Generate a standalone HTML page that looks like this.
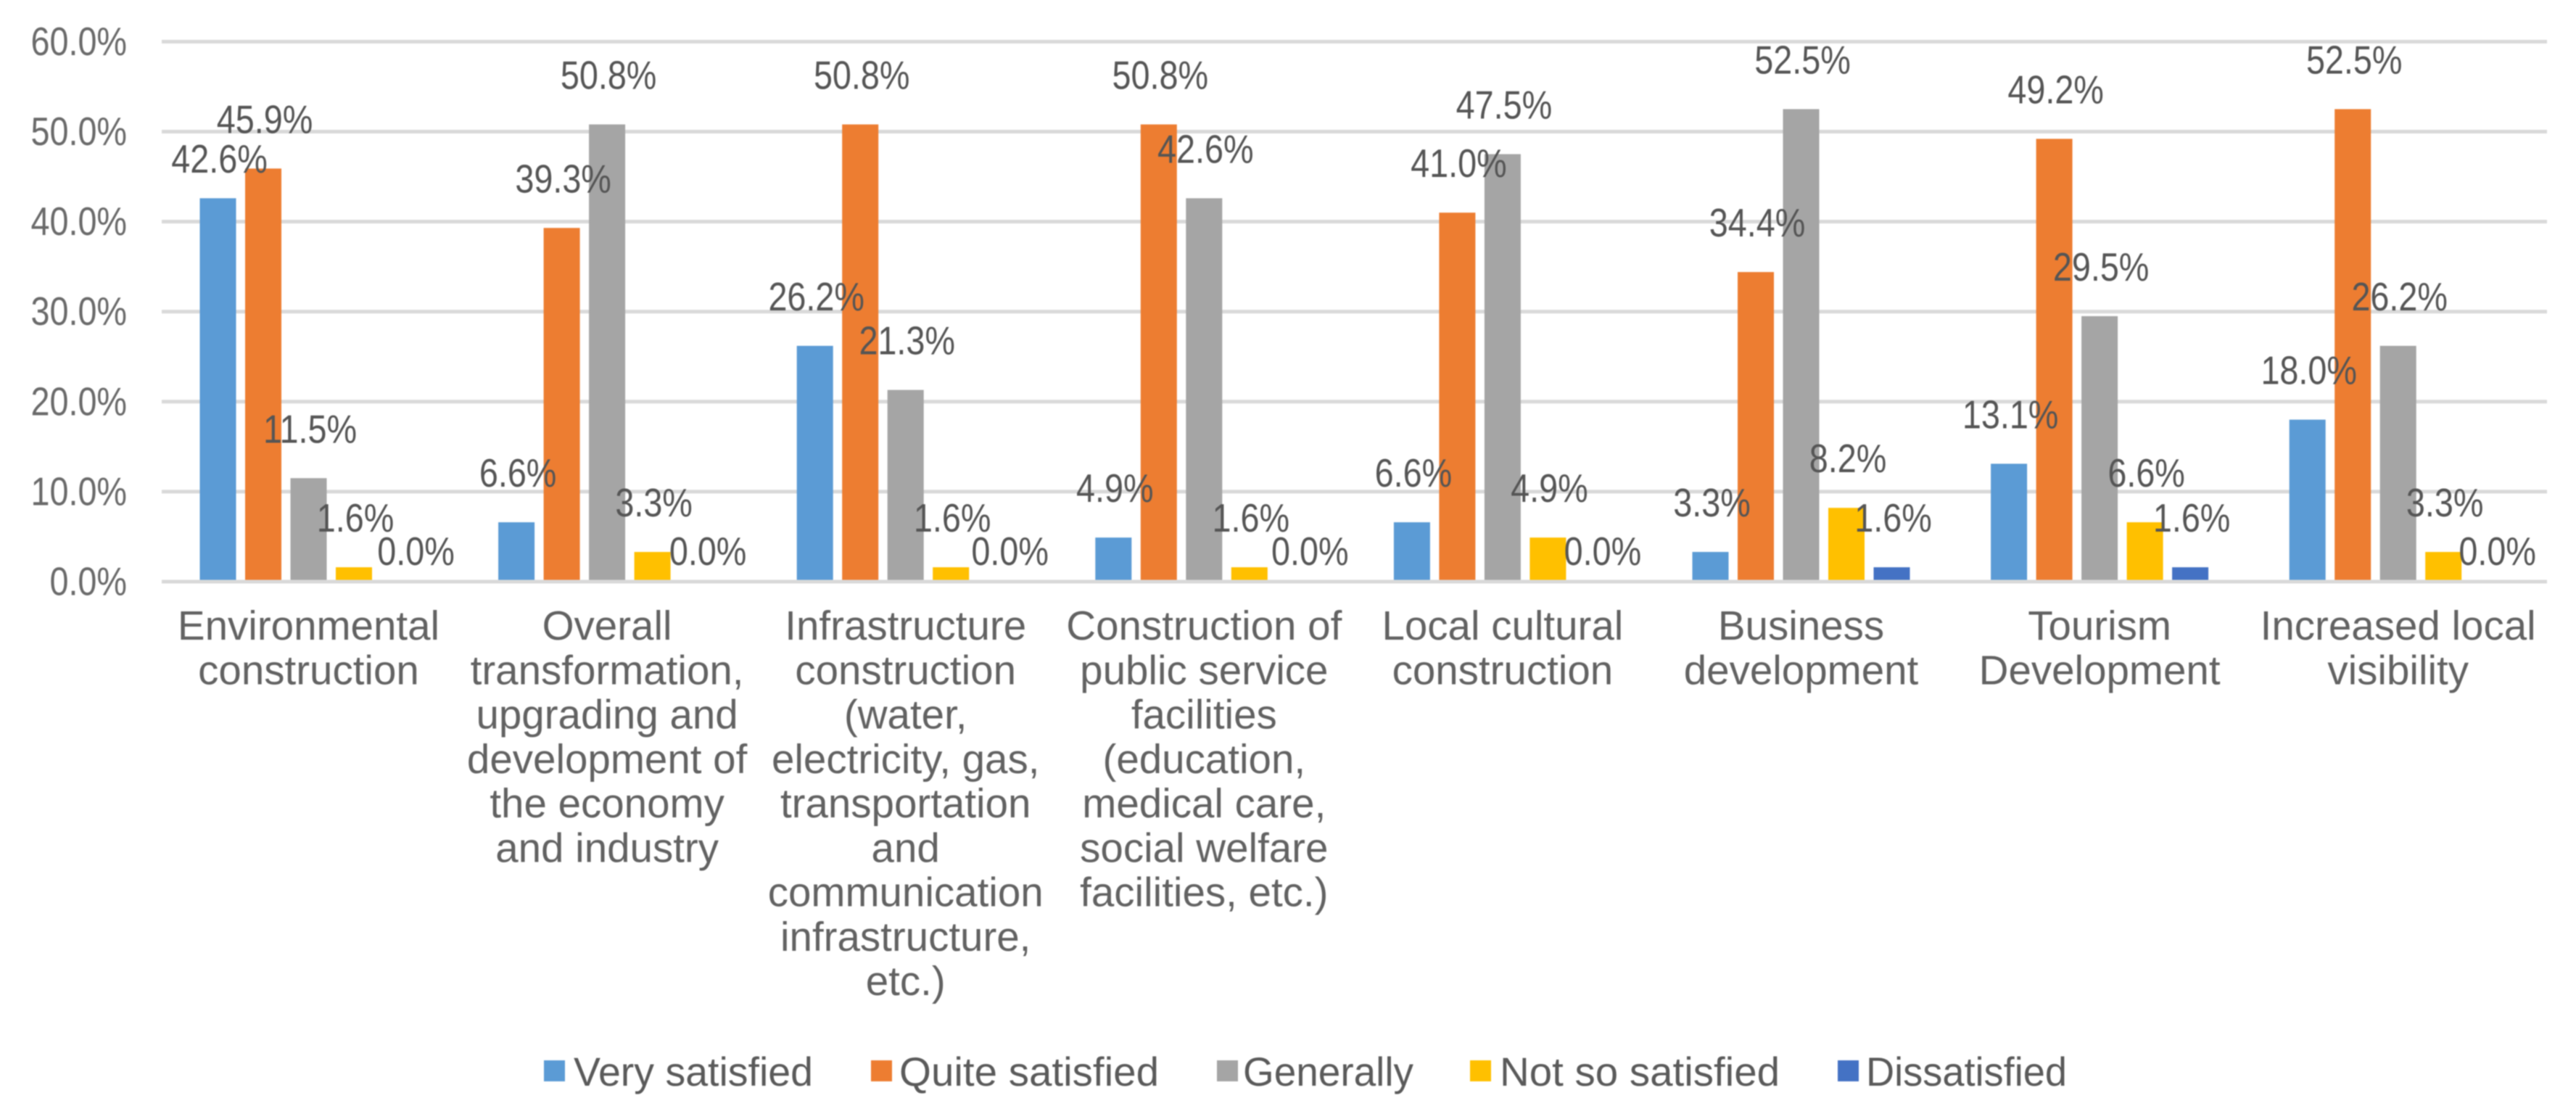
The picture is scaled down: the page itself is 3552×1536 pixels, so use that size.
<!DOCTYPE html>
<html lang="en">
<head>
<meta charset="utf-8">
<title>Satisfaction chart</title>
<style>
html,body{margin:0;padding:0;background:#fff;}
body{width:3552px;height:1536px;overflow:hidden;}
#chart{display:block;filter:blur(0.8px);}
text{font-family:"Liberation Sans",Arial,sans-serif;}
.tick{font-size:55px;fill:#6a6a6a;}
.val{font-size:55px;fill:#555;}
.cat{font-size:56.5px;fill:#626262;text-anchor:middle;}
.leg{font-size:56px;fill:#5a5a5a;}
</style>
</head>
<body>
<svg id="chart" width="3552" height="1536" viewBox="0 0 3552 1536" xmlns="http://www.w3.org/2000/svg">
  <rect x="0" y="0" width="3552" height="1536" fill="#fff"/>
  <g id="grid"></g>
  <g id="ticks"></g>
  <g id="bars"></g>
  <g id="axis"></g>
  <g id="values"></g>
  <g id="cats"></g>
  <g id="legend">
    <g><rect x="750" y="1462" width="29" height="29" fill="#5B9BD5"/><text class="leg" x="791" y="1497" textLength="330" lengthAdjust="spacingAndGlyphs">Very satisfied</text></g>
    <g><rect x="1201" y="1462" width="29" height="29" fill="#ED7D31"/><text class="leg" x="1240" y="1497" textLength="358" lengthAdjust="spacingAndGlyphs">Quite satisfied</text></g>
    <g><rect x="1678" y="1462" width="29" height="29" fill="#A5A5A5"/><text class="leg" x="1714" y="1497" textLength="235" lengthAdjust="spacingAndGlyphs">Generally</text></g>
    <g><rect x="2027" y="1462" width="29" height="29" fill="#FFC000"/><text class="leg" x="2068" y="1497" textLength="386" lengthAdjust="spacingAndGlyphs">Not so satisfied</text></g>
    <g><rect x="2534" y="1462" width="29" height="29" fill="#4472C4"/><text class="leg" x="2573" y="1497" textLength="277" lengthAdjust="spacingAndGlyphs">Dissatisfied</text></g>
  </g>
</svg>
<script>
// Chart data
const categoryLines = [
  ["Environmental", "construction"],
  ["Overall", "transformation,", "upgrading and", "development of", "the economy", "and industry"],
  ["Infrastructure", "construction", "(water,", "electricity, gas,", "transportation", "and", "communication", "infrastructure,", "etc.)"],
  ["Construction of", "public service", "facilities", "(education,", "medical care,", "social welfare", "facilities, etc.)"],
  ["Local cultural", "construction"],
  ["Business", "development"],
  ["Tourism", "Development"],
  ["Increased local", "visibility"]
];
const verySatisfied = [42.6, 6.6, 26.2, 4.9, 6.6, 3.3, 13.1, 18.0];
const quiteSatisfied = [45.9, 39.3, 50.8, 50.8, 41.0, 34.4, 49.2, 52.5];
const generally = [11.5, 50.8, 21.3, 42.6, 47.5, 52.5, 29.5, 26.2];
const notSoSatisfied = [1.6, 3.3, 1.6, 1.6, 4.9, 8.2, 6.6, 3.3];
const dissatisfied = [0.0, 0.0, 0.0, 0.0, 0.0, 1.6, 1.6, 0.0];
const yTicks = [0, 10, 20, 30, 40, 50, 60];

const seriesList = [verySatisfied, quiteSatisfied, generally, notSoSatisfied, dissatisfied];
const seriesColors = ["#5B9BD5", "#ED7D31", "#A5A5A5", "#FFC000", "#4472C4"];

// Layout and axis functions
const NS = "http://www.w3.org/2000/svg";
const plotLeft = 223, plotRight = 3512, yZero = 802, yPerUnit = 12.41;
const firstBarX = 275.5, groupStep = 411.6, barStep = 62.5, barWidth = 50;
const labelGap = 49, zeroLabelGap = 23, labelScale = 0.85;
function yScale(v) { return yZero - v * yPerUnit; }
function barX(c, s) { return firstBarX + c * groupStep + s * barStep; }
function labelX(c, s) { return barX(c, s) + barWidth / 2 + 2; }
// Zero-value labels sit closer to the axis and shift right, by category
function zeroLabelShift(c) { return [21, 12, 17, 19, 11, 11, 11, 10][c]; }
function labelText(v) { return v.toFixed(1) + "%"; }
function make(tag, parentId) {
  const el = document.createElementNS(NS, tag);
  document.getElementById(parentId).appendChild(el);
  return el;
}

yTicks.forEach(function (t) {
  const y = yScale(t);
  if (t !== 0) {
    const line = make("rect", "grid");
    
    
    line.setAttribute("x", plotLeft);
    line.setAttribute("y", y - 2.5);
    line.setAttribute("width", plotRight - plotLeft);
    line.setAttribute("height", 5);
    line.setAttribute("fill", "#D9D9D9");
  }
  const tick = make("text", "ticks");
  
  
  tick.setAttribute("class", "tick");
  tick.setAttribute("text-anchor", "end");
  tick.setAttribute("transform", "translate(175," + (y + 18.5) + ") scale(" + labelScale + ",1)");
  tick.textContent = t.toFixed(1) + "%";
});

seriesList.forEach(function (values, s) {
  values.forEach(function (v, c) {
    const bar = make("rect", "bars");
    
    
    bar.setAttribute("x", barX(c, s));
    bar.setAttribute("y", yScale(v));
    bar.setAttribute("width", barWidth);
    bar.setAttribute("height", yZero - yScale(v));
    bar.setAttribute("fill", seriesColors[s]);
  });
});

const axisLine = make("rect", "axis");


axisLine.setAttribute("x", plotLeft);
axisLine.setAttribute("y", yZero - 2.5);
axisLine.setAttribute("width", plotRight - plotLeft);
axisLine.setAttribute("height", 5);
axisLine.setAttribute("fill", "#D9D9D9");

seriesList.forEach(function (values, s) {
  values.forEach(function (v, c) {
    const label = make("text", "values");
    
    
    label.setAttribute("class", "val");
    label.setAttribute("text-anchor", "middle");
    let x = labelX(c, s);
    let y = yScale(v) - labelGap;
    if (v === 0) {
      x += zeroLabelShift(c);
      y = yScale(v) - zeroLabelGap;
    }
    // The first label of the first group sits lower, clear of its neighbour
    if (c === 0 && s === 0) { y += 13.5; }
    label.setAttribute("transform", "translate(" + x + "," + y + ") scale(" + labelScale + ",1)");
    label.textContent = labelText(v);
  });
});

categoryLines.forEach(function (lines, c) {
  const group = make("text", "cats");
  
  
  group.setAttribute("class", "cat");
  const cx = barX(c, 2) + barWidth / 2;
  lines.forEach(function (line, i) {
    const span = document.createElementNS(NS, "tspan");
    span.setAttribute("x", cx);
    span.setAttribute("y", 882 + i * 61.25);
    span.textContent = line;
    group.appendChild(span);
  });
});
</script>
</body>
</html>
